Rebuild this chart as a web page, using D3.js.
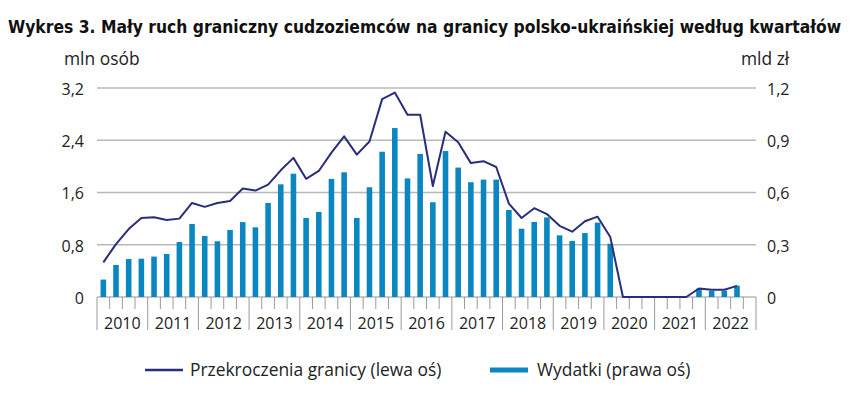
<!DOCTYPE html>
<html><head><meta charset="utf-8">
<script src="https://cdn.jsdelivr.net/npm/d3@7"></script>
<style>body{margin:0;background:#fff}svg{display:block}</style>
</head><body>
<svg id="c" width="851" height="396"></svg>
<script>
const years = [2010,2011,2012,2013,2014,2015,2016,2017,2018,2019,2020,2021,2022];
const quarters = years.flatMap(y => ["Q1","Q2","Q3","Q4"].map(q => y + " " + q));
// Przekroczenia granicy (mln osób, lewa oś)
const crossings = [0.53,0.81,1.04,1.21, 1.22,1.18,1.20,1.44, 1.38,1.44,1.47,1.66, 1.63,1.72,1.94,2.13,
  1.81,1.93,2.21,2.46, 2.18,2.38,3.03,3.13, 2.79,2.79,1.70,2.53, 2.37,2.05,2.08,1.99,
  1.43,1.21,1.36,1.27, 1.09,1.00,1.16,1.23, 0.92,0,0,0, 0,0,0,0.13, 0.11,0.11,0.17,null];
// Wydatki (mld zł, prawa oś)
const spending = [0.10,0.184,0.218,0.22, 0.232,0.247,0.316,0.419, 0.35,0.32,0.385,0.43, 0.40,0.54,0.647,0.708,
  0.454,0.488,0.678,0.716, 0.454,0.63,0.834,0.970, 0.681,0.821,0.544,0.838, 0.743,0.659,0.674,0.674,
  0.50,0.392,0.431,0.457, 0.354,0.322,0.367,0.427, 0.306,0,0,0, 0,0,0,0.048, 0.036,0.036,0.065,null];
const leftTicks = [0,0.8,1.6,2.4,3.2];
const rightTicks = [0,0.3,0.6,0.9,1.2];

const svg = d3.select("#c");
const font = "'Open Sans','Noto Sans',sans-serif";
const L = 97, R = 756, T = 88, B = 297;
const x = d3.scaleBand().domain(quarters).range([L, R]).paddingInner(0.56).paddingOuter(0.28);
const xs = d3.scaleBand().domain(quarters).range([L, R]);
const yL = d3.scaleLinear().domain([0, 3.2]).range([B, T]);
const yR = d3.scaleLinear().domain([0, 1.2]).range([B, T]);
const fmt = d => d === 0 ? "0" : d.toFixed(1).replace(".", ",");

// title (font size fitted so the natural width is ~834px)
const title = svg.append("text").attr("x", 8).attr("y", 33)
  .style("font-family", "'Liberation Sans Narrow','DejaVu Sans Condensed',sans-serif").style("font-weight", "bold")
  .style("font-size", "19px").attr("fill", "#111")
  .text("Wykres 3. Mały ruch graniczny cudzoziemców na granicy polsko-ukraińskiej według kwartałów");
const tw = title.node().getComputedTextLength();
if (tw > 0) title.style("font-size", Math.min(21, 19 * 834 / tw) + "px");

svg.append("text").attr("x", 64).attr("y", 65).style("font-family", font).style("font-size", "17.4px").attr("fill", "#222").text("mln osób");
svg.append("text").attr("x", 741).attr("y", 65).style("font-family", font).style("font-size", "17.4px").attr("fill", "#222").text("mld zł");

// gridlines
svg.append("g").selectAll("line").data(leftTicks).join("line")
  .attr("x1", L).attr("x2", R).attr("y1", d => yL(d)).attr("y2", d => yL(d))
  .attr("stroke", "#b8b8b8").attr("stroke-width", 1.3);

// left axis
const gL = svg.append("g").attr("transform", `translate(${L},0)`)
  .call(d3.axisLeft(yL).tickValues(leftTicks).tickFormat(fmt).tickSize(0).tickPadding(13));
gL.select(".domain").remove();
gL.selectAll("text").style("font-family", font).style("font-size", "16px").attr("fill", "#222").attr("dy", "0.4em");

// right axis
const gR = svg.append("g").attr("transform", `translate(${R},0)`)
  .call(d3.axisRight(yR).tickValues(rightTicks).tickFormat(fmt).tickSize(0).tickPadding(11));
gR.select(".domain").remove();
gR.selectAll("text").style("font-family", font).style("font-size", "16px").attr("fill", "#222").attr("dy", "0.4em");

// x ticks
const bounds = d3.range(quarters.length + 1).map(i => L + i * xs.step());
svg.append("g").selectAll("line").data(bounds).join("line")
  .attr("x1", d => d).attr("x2", d => d).attr("y1", B)
  .attr("y2", (d, i) => i % 4 === 0 ? 330 : 309)
  .attr("stroke", "#9a9a9a").attr("stroke-width", 1);
svg.append("g").selectAll("text").data(years).join("text")
  .attr("x", y => xs(y + " Q1") + 2 * xs.step()).attr("y", 329)
  .attr("text-anchor", "middle").style("font-family", font).style("font-size", "16px").attr("fill", "#222")
  .text(d => d);

// bars
const barData = quarters.map((q, i) => ({q, v: spending[i]})).filter(d => d.v != null && d.v > 0);
svg.append("g").selectAll("rect").data(barData).join("rect")
  .attr("x", d => x(d.q)).attr("width", x.bandwidth())
  .attr("y", d => yR(d.v)).attr("height", d => B - yR(d.v))
  .attr("fill", "#0a86c1");

// line
const lineData = quarters.map((q, i) => ({q, v: crossings[i]})).filter(d => d.v != null);
svg.append("path").datum(lineData)
  .attr("d", d3.line().x(d => xs(d.q) + xs.bandwidth() / 2).y(d => yL(d.v)))
  .attr("fill", "none").attr("stroke", "#2a2d7c").attr("stroke-width", 2).attr("stroke-linejoin", "round");

// legend
const lg = svg.append("g");
lg.append("line").attr("x1", 145).attr("x2", 183).attr("y1", 370).attr("y2", 370).attr("stroke", "#2a2d7c").attr("stroke-width", 2.5);
lg.append("text").attr("x", 190).attr("y", 376).style("font-family", font).style("font-size", "17.4px").attr("fill", "#222").text("Przekroczenia granicy (lewa oś)");
lg.append("rect").attr("x", 490).attr("y", 367.5).attr("width", 38).attr("height", 5).attr("fill", "#0a86c1");
lg.append("text").attr("x", 537).attr("y", 376).style("font-family", font).style("font-size", "17.4px").attr("fill", "#222").text("Wydatki (prawa oś)");
</script>
</body></html>
